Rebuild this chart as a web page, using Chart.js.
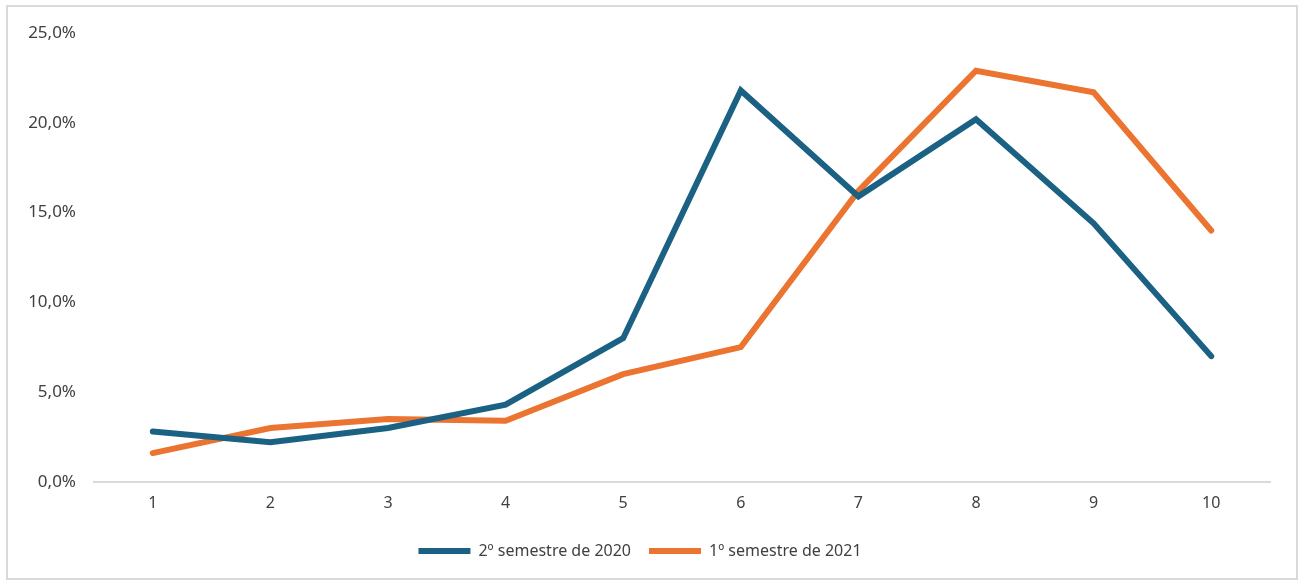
<!DOCTYPE html>
<html lang="pt">
<head>
    <meta charset="UTF-8">
    <title>Semestres</title>
    <script src="https://cdn.jsdelivr.net/npm/chart.js"></script>
    <style>
        body { margin: 0; background: #fff; }
        #wrap { position: relative; width: 1302px; height: 580px; }
        #borda {
            position: absolute; left: 6px; top: 5px; width: 1288px; height: 571px;
            border: 2px solid #d9d9d9; pointer-events: none;
        }
    </style>
</head>
<body>
    <div id="wrap">
        <canvas id="grafico" width="1302" height="580"></canvas>
        <div id="borda"></div>
    </div>

    <script>
        // Dados
        const categorias = ['1', '2', '3', '4', '5', '6', '7', '8', '9', '10'];
        const semestre2020 = [2.8, 2.2, 3.0, 4.3, 8.0, 21.8, 15.9, 20.2, 14.4, 7.0];
        const semestre2021 = [1.6, 3.0, 3.5, 3.4, 6.0, 7.5, 16.2, 22.9, 21.7, 14.0];
        const nomes = ['2º semestre de 2020', '1º semestre de 2021'];

        const fonte = { family: '"Noto Sans", sans-serif', size: 16 };
        const corTexto = '#404040';

        const ctx = document.getElementById('grafico').getContext('2d');
        const chart = new Chart(ctx, {
            type: 'line',
            data: {
                labels: categorias,
                datasets: [{
                    label: nomes[0],
                    data: semestre2020,
                    borderColor: '#1b6183',
                    backgroundColor: '#1b6183',
                    borderWidth: 6,
                    borderCapStyle: 'round',
                    pointRadius: 0,
                    tension: 0,
                    fill: false
                }, {
                    label: nomes[1],
                    data: semestre2021,
                    borderColor: '#ec7431',
                    backgroundColor: '#ec7431',
                    borderWidth: 6,
                    borderCapStyle: 'round',
                    pointRadius: 0,
                    tension: 0,
                    fill: false
                }]
            },
            options: {
                responsive: false,
                animation: false,
                layout: { padding: { left: 10, right: 32, top: 33, bottom: 11 } },
                plugins: {
                    tooltip: { enabled: false },
                    legend: {
                        position: 'bottom',
                        labels: {
                            usePointStyle: true,
                            pointStyle: 'line',
                            pointStyleWidth: 52,
                            boxHeight: 16,
                            padding: 18,
                            color: corTexto,
                            font: fonte
                        }
                    }
                },
                scales: {
                    x: {
                        offset: true,
                        grid: { display: false, drawTicks: false },
                        border: { display: true, color: '#d9d9d9', width: 2 },
                        ticks: { color: corTexto, font: fonte, padding: 12 }
                    },
                    y: {
                        min: 0,
                        max: 25,
                        afterFit: scale => { scale.width = 84; },
                        grid: { display: false, drawTicks: false },
                        border: { display: false },
                        ticks: {
                            stepSize: 5,
                            color: corTexto,
                            font: { family: fonte.family, size: 17 },
                            padding: 18,
                            callback: v => v.toFixed(1).replace('.', ',') + '%'
                        }
                    }
                }
            }
        });
    </script>
</body>
</html>
